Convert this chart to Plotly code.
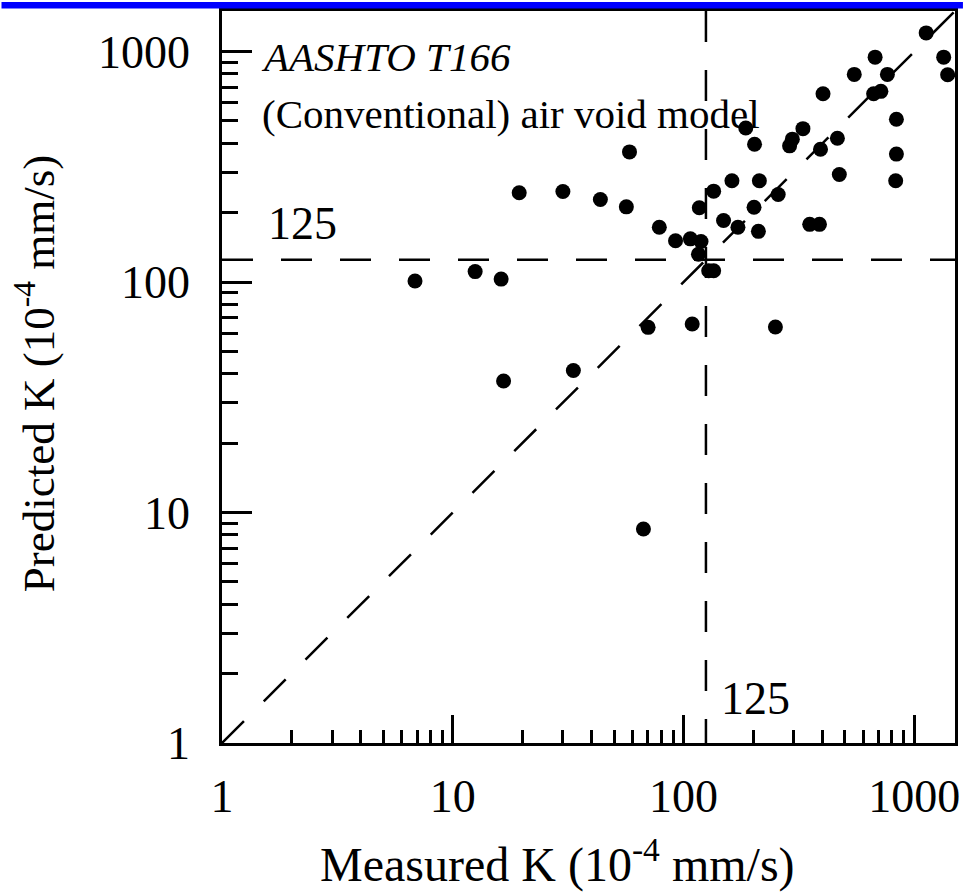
import plotly.graph_objects as go
import math

# ---- data ----
measured_k = [1125, 1340, 1394, 676, 549, 764, 666, 716, 402, 836, 836, 830,
              473, 464, 392, 329, 296, 288, 186, 203, 58.3, 43.6, 56.5, 78.5,
              92.3, 107, 119, 116, 128.5, 135, 117, 135, 162, 213, 257, 202,
              149, 172, 211, 352, 388, 19.4, 30.0, 6.86, 12.5, 16.2, 16.6,
              33.3, 70.2, 109, 250, 67]
predicted_k = [1205, 946, 793, 946, 796, 796, 656, 672, 656, 509, 359, 275,
               293, 421, 377, 463, 417, 390, 466, 396, 367, 228, 212, 173,
               151, 154, 150, 132, 112, 112, 210, 248, 275, 275, 240, 211,
               185, 173, 166, 178, 178, 244, 247, 101, 111, 103, 37.2,
               41.3, 63.6, 65.8, 63.8, 8.48]

axis_min = 1
axis_max = 1500
threshold = 125
major_ticks = [1, 10, 100, 1000]
major_labels = ["1", "10", "100", "1000"]
minor_ticks = [2, 3, 4, 5, 6, 7, 8, 9, 20, 30, 40, 50, 60, 70, 80, 90,
               200, 300, 400, 500, 600, 700, 800, 900]

FONT = "Liberation Serif"
W, H = 968, 895
ML, MR, MT, MB = 222, 8, 9, 152
PW = W - ML - MR
PH = H - MT - MB


def px_x(p):
    return (p - ML) / PW


def px_y(p):
    return (H - MB - p) / PH


dash = "31px,28px"

fig = go.Figure()

# 1:1 line
fig.add_trace(go.Scatter(x=[axis_min, axis_max], y=[axis_min, axis_max], mode="lines",
                         line=dict(color="black", width=2.5, dash=dash),
                         hoverinfo="skip", showlegend=False))
# horizontal threshold
fig.add_trace(go.Scatter(x=[axis_min, axis_max], y=[threshold, threshold], mode="lines",
                         line=dict(color="black", width=2.5, dash=dash),
                         hoverinfo="skip", showlegend=False))
# vertical threshold (drawn top to bottom)
fig.add_trace(go.Scatter(x=[threshold, threshold], y=[axis_max, axis_min], mode="lines",
                         line=dict(color="black", width=2.5, dash=dash),
                         hoverinfo="skip", showlegend=False))

fig.add_trace(go.Scatter(x=measured_k, y=predicted_k, mode="markers",
                         marker=dict(color="black", size=15, line=dict(width=0)),
                         showlegend=False))

axis_common = dict(
    type="log",
    range=[math.log10(axis_min), math.log10(axis_max)],
    showgrid=False, zeroline=False,
    showline=True, mirror=True, linecolor="black", linewidth=2.5,
    ticks="inside", tickcolor="black", tickwidth=2.5,
    tickmode="array", tickvals=major_ticks, ticktext=major_labels,
    tickfont=dict(family=FONT, size=46, color="black"),
)

fig.update_xaxes(**axis_common, ticklen=28, ticklabelstandoff=11,
                 minor=dict(tickmode="array", tickvals=minor_ticks, ticks="inside",
                            ticklen=13, tickwidth=2.5, tickcolor="black", showgrid=False))
fig.update_yaxes(**axis_common, ticklen=30, ticklabelstandoff=20,
                 minor=dict(tickmode="array", tickvals=minor_ticks, ticks="inside",
                            ticklen=16, tickwidth=2.5, tickcolor="black", showgrid=False))

annotations = [
    dict(text="<i>AASHTO T166</i>", x=px_x(259), y=px_y(55), xanchor="left", yanchor="middle",
         font=dict(family=FONT, size=41, color="black")),
    dict(text="(Conventional) air void model", x=px_x(260), y=px_y(112), xanchor="left",
         yanchor="middle", font=dict(family=FONT, size=41, color="black")),
    dict(text="125", x=px_x(266), y=px_y(222), xanchor="left", yanchor="middle",
         font=dict(family=FONT, size=46, color="black")),
    dict(text="125", x=px_x(722), y=px_y(698), xanchor="left", yanchor="middle",
         font=dict(family=FONT, size=46, color="black")),
    dict(text="Measured K (10<sup>-4</sup> mm/s)", x=px_x(560), y=px_y(862),
         xanchor="center", yanchor="middle", font=dict(family=FONT, size=48, color="black")),
    dict(text="Predicted K (10<sup>-4</sup> mm/s)", x=px_x(34), y=px_y(373), textangle=-90,
         xanchor="center", yanchor="middle", font=dict(family=FONT, size=45, color="black")),
]
for a in annotations:
    a.update(xref="paper", yref="paper", showarrow=False)

fig.update_layout(
    width=W, height=H,
    margin=dict(l=ML, r=MR, t=MT, b=MB, pad=0),
    paper_bgcolor="white", plot_bgcolor="white",
    annotations=annotations,
    shapes=[dict(type="rect", xref="paper", yref="paper",
                 x0=px_x(0), x1=px_x(W), y0=px_y(6.5), y1=px_y(0),
                 fillcolor="#0000ff", line=dict(width=0), layer="above")],
)

fig.write_html("out.html", config={"displayModeBar": False},
               post_script="document.body.style.margin='0';document.body.style.overflow='hidden';")
